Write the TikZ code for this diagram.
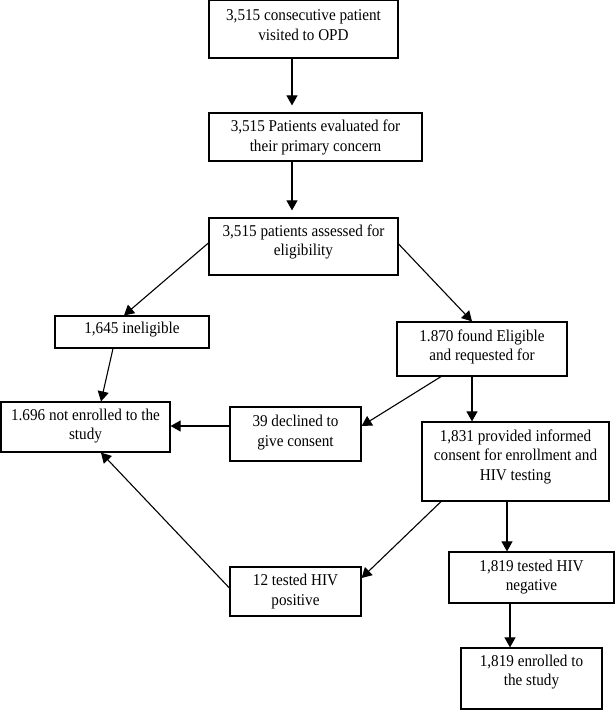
\documentclass[tikz,border=0pt]{standalone}
\usepackage{fontspec}
\setmainfont{Liberation Serif}[FakeStretch=0.92]
\usetikzlibrary{arrows.meta}
\tikzset{
  box/.style={draw=black, line width=1.2pt, inner sep=0pt, rectangle},
  txt/.style={align=center, inner sep=0pt, font=\fontsize{16.5}{19.5}\selectfont},
  arr/.style={line width=1.1pt, -{Triangle[length=10pt,width=11pt]}},
}
% name, cx, cy, w, h, text-shift-up, text
\newcommand\flowbox[7]{%
  \node[box, minimum width=#4pt, minimum height=#5pt] (#1) at (#2,#3) {};
  \node[txt] (#1t) at ([yshift=#6pt]#1.center) {#7};
}
\begin{document}
\begin{tikzpicture}[x=1pt,y=-1pt]
\useasboundingbox (0,0) rectangle (615,710);
\flowbox{b1}{303.5}{29.4}{189}{57.2}{4.5}{3,515 consecutive patient\\visited to OPD}
\flowbox{b2}{315.5}{137}{213}{48}{-0.5}{3,515 Patients evaluated for\\their primary concern}
\flowbox{b3}{303.5}{246.5}{189}{57}{4.5}{3,515 patients assessed for\\eligibility}
\flowbox{b4}{132}{332}{154}{32}{2.7}{1,645 ineligible}
\flowbox{b5}{482}{349}{170}{54}{2.3}{1.870 found Eligible\\and requested for}
\flowbox{b6}{85.5}{427}{169}{50}{1}{1.696 not enrolled to the\\study}
\flowbox{b7}{295.5}{434}{131}{54}{1.7}{39 declined to\\give consent}
\flowbox{b8}{515.5}{461.5}{187}{79}{4.8}{1,831 provided informed\\consent for enrollment and\\HIV testing}
\flowbox{b9}{295.5}{591.5}{131}{49}{0}{12 tested HIV\\positive}
\flowbox{b10}{531.5}{577.5}{165}{51}{0.5}{1,819 tested HIV\\negative}
\flowbox{b11}{531.5}{678.5}{141}{61}{6.5}{1,819 enrolled to\\the study}

\draw[arr, shorten >=7pt] ([xshift=-11.5pt]b1.south) -- ([xshift=-23.5pt]b2.north);
\draw[arr, shorten >=7pt] ([xshift=-23.5pt]b2.south) -- ([xshift=-11.5pt]b3.north);
\draw[arr] ([yshift=3.5pt]b3.west) -- ([xshift=-8pt]b4.north);
\draw[arr] ([yshift=2.5pt]b3.east) -- ([xshift=-10pt]b5.north);
\draw[arr] ([xshift=-19pt]b4.south) -- ([xshift=15.5pt]b6.north);
\draw[arr] ([xshift=-41pt]b5.south) -- ([yshift=8pt]b7.east);
\draw[arr] ([xshift=-10pt]b5.south) -- ([xshift=-43.5pt]b8.north);
\draw[arr] ([yshift=8pt]b7.west) -- ([yshift=1pt]b6.east);
\draw[arr] ([xshift=-74.5pt]b8.south) -- ([yshift=13.5pt]b9.east);
\draw[arr] ([yshift=3.5pt]b9.west) -- ([xshift=15.5pt]b6.south);
\draw[arr] ([xshift=-8.5pt]b8.south) -- ([xshift=-24.5pt]b10.north);
\draw[arr] ([xshift=-21.5pt]b10.south) -- ([xshift=-21.5pt]b11.north);
\end{tikzpicture}
\end{document}
